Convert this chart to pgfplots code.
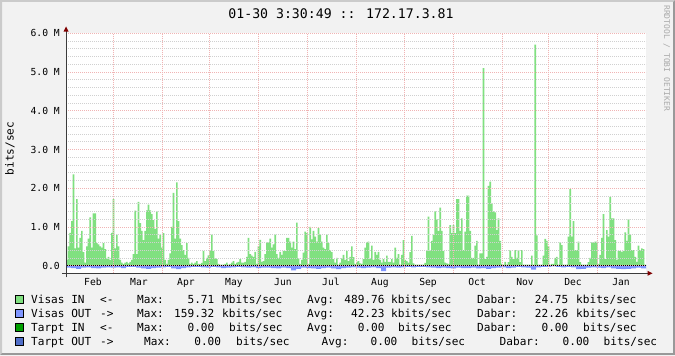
\documentclass[border=0pt]{standalone}
\usepackage{fontspec}
\usepackage{pgfplots}
\pgfplotsset{compat=1.18}
\usepackage{pgfplotstable}
\usetikzlibrary{arrows.meta}
\newfontfamily\rrdmono{DejaVu Sans Mono}
\newcommand\lgf{\rrdmono\fontsize{11.1bp}{13bp}\selectfont}
\newcommand\axf{\rrdmono\fontsize{9.7bp}{11bp}\selectfont}
\newcommand\ttf{\rrdmono\fontsize{13.2bp}{15bp}\selectfont}
\newcommand\wmf{\rrdmono\fontsize{8bp}{9bp}\selectfont}
\definecolor{bgc}{RGB}{242,242,242}
\definecolor{shadeA}{RGB}{203,203,203}
\definecolor{shadeB}{RGB}{153,153,153}
\definecolor{ingreen}{RGB}{128,224,128}
\definecolor{outblue}{RGB}{128,150,255}
\definecolor{tin}{RGB}{0,160,0}
\definecolor{tout}{RGB}{80,110,200}
\definecolor{mgrid}{RGB}{240,180,180}
\definecolor{mingrid}{RGB}{208,208,208}
\definecolor{axisc}{RGB}{60,60,60}
\definecolor{arrowc}{RGB}{127,0,0}
\definecolor{wmc}{RGB}{170,170,170}

% Visas IN, one value per step of 5/3 px (bits/sec in M)
\pgfplotstableread[row sep=\\, header=false]{
0.15\\0.5\\0.85\\1.15\\2.36\\0.45\\1.72\\0.47\\0.72\\0.9\\0.35\\0.08\\0.5\\0.7\\1.25\\0.47\\1.35\\1.35\\0.58\\0.55\\
0.5\\0.47\\0.58\\0.43\\0.17\\0.23\\0.15\\0.85\\1.72\\0.45\\0.8\\0.5\\0.15\\0.08\\0.05\\0.08\\0.1\\0.06\\0.1\\0.15\\
0.3\\1.42\\0.3\\1.65\\1.1\\0.9\\0.66\\0.9\\1.43\\1.58\\1.43\\1.33\\1.18\\0.95\\1.4\\0.7\\0.8\\0.47\\0.84\\
0.15\\0.05\\0.15\\0.32\\1.0\\1.88\\0.7\\2.15\\1.15\\0.7\\0.53\\0.4\\0.28\\0.58\\0.2\\0.05\\0.08\\0.05\\0.08\\0.12\\
0.05\\0.05\\0.07\\0.38\\0.12\\0.2\\0.27\\0.4\\0.8\\0.38\\0.19\\0.17\\0.05\\0.03\\0.03\\0.03\\0.05\\0.08\\0.03\\0.05\\
0.08\\0.12\\0.05\\0.08\\0.1\\0.17\\0.08\\0.08\\0.1\\0.23\\0.72\\0.3\\0.26\\0.23\\0.36\\0.05\\0.5\\0.67\\0.1\\
0.12\\0.3\\0.6\\0.6\\0.7\\0.47\\0.55\\0.8\\0.3\\0.2\\0.36\\0.28\\0.38\\0.38\\0.72\\0.72\\0.62\\0.47\\0.62\\0.43\\
1.11\\0.19\\0.05\\0.15\\0.34\\0.88\\0.84\\0.05\\1.0\\0.68\\0.9\\0.75\\0.62\\0.97\\0.8\\0.62\\0.47\\0.43\\0.8\\0.58\\
0.4\\0.35\\0.17\\0.08\\0.2\\0.03\\0.08\\0.19\\0.28\\0.15\\0.38\\0.12\\0.23\\0.5\\0.22\\0.05\\0.1\\0.12\\0.06\\
0.05\\0.17\\0.47\\0.6\\0.62\\0.17\\0.52\\0.15\\0.36\\0.28\\0.36\\0.15\\0.08\\0.17\\0.1\\0.26\\0.1\\0.1\\0.17\\0.08\\
0.47\\0.2\\0.3\\0.03\\0.28\\0.66\\0.15\\0.12\\0.08\\0.35\\0.77\\0.06\\0.03\\0.03\\0.03\\0.03\\0.03\\0.03\\0.07\\0.38\\
1.27\\0.38\\0.64\\0.8\\1.4\\1.2\\0.9\\1.5\\0.9\\0.38\\0.08\\0.06\\0.05\\1.05\\0.84\\1.05\\0.84\\1.72\\1.72\\
0.9\\1.22\\0.4\\0.88\\1.81\\1.81\\0.9\\0.2\\0.2\\0.52\\0.64\\0.03\\0.32\\0.32\\5.1\\0.17\\0.23\\2.06\\2.17\\1.6\\
1.4\\1.38\\0.92\\1.22\\0.64\\0.05\\0.03\\0.1\\0.03\\0.09\\0.4\\0.23\\0.17\\0.4\\0.2\\0.4\\0.09\\0.4\\0.03\\0.03\\
0.03\\0.03\\0.03\\0.26\\0.03\\5.71\\0.78\\0.03\\0.03\\0.03\\0.26\\0.69\\0.64\\0.5\\0.03\\0.05\\0.05\\0.2\\
0.23\\0.03\\0.6\\0.53\\0.03\\0.03\\0.03\\0.75\\1.98\\0.75\\1.15\\0.4\\0.4\\0.62\\0.09\\0.03\\0.03\\0.03\\0.03\\0.09\\
0.2\\0.6\\0.6\\0.62\\0.62\\0.05\\0.28\\0.72\\1.33\\0.17\\0.92\\0.75\\1.78\\1.22\\1.22\\0.66\\0.15\\0.38\\0.38\\0.36\\
0.38\\0.86\\0.64\\1.2\\0.8\\0.4\\0.4\\0.23\\0.1\\0.52\\0.4\\0.45\\0.43\\0.03\\0.03\\
}\inT

% Visas OUT, drawn below zero, one value per step of 5 px
\pgfplotstableread[row sep=\\, header=false]{
-0.05\\-0.06\\-0.08\\-0.05\\-0.04\\-0.06\\-0.07\\-0.05\\-0.04\\-0.05\\
-0.04\\-0.06\\-0.03\\-0.03\\-0.05\\-0.07\\-0.08\\-0.06\\-0.05\\-0.04\\
-0.03\\-0.07\\-0.09\\-0.06\\-0.04\\-0.03\\-0.03\\-0.04\\-0.05\\-0.03\\
-0.04\\-0.06\\-0.05\\-0.04\\-0.03\\-0.04\\-0.05\\-0.04\\-0.06\\-0.05\\
-0.05\\-0.06\\-0.07\\-0.05\\-0.06\\-0.12\\-0.08\\-0.05\\-0.06\\-0.07\\
-0.08\\-0.06\\-0.05\\-0.07\\-0.09\\-0.06\\-0.05\\-0.04\\-0.05\\-0.06\\
-0.05\\-0.04\\-0.06\\-0.14\\-0.05\\-0.04\\-0.05\\-0.04\\-0.03\\-0.04\\
-0.03\\-0.03\\-0.04\\-0.05\\-0.06\\-0.05\\-0.06\\-0.07\\-0.05\\-0.06\\
-0.06\\-0.05\\-0.07\\-0.06\\-0.08\\-0.06\\-0.05\\-0.04\\-0.06\\-0.05\\
-0.03\\-0.04\\-0.05\\-0.10\\-0.04\\-0.03\\-0.03\\-0.02\\-0.03\\-0.04\\
-0.03\\-0.04\\-0.09\\-0.08\\-0.05\\-0.04\\-0.05\\-0.06\\-0.04\\-0.07\\
-0.08\\-0.09\\-0.08\\-0.07\\-0.05\\-0.07\\-0.08\\-0.06\\-0.05\\-0.04\\
}\outT

\begin{document}
\begin{tikzpicture}[x=1bp,y=1bp]
\useasboundingbox (0,0) rectangle (675,355);
\fill[bgc] (0,0) rectangle (675,355);
\fill[shadeA] (0,0) -- (0,355) -- (675,355) -- (673,353) -- (2,353) -- (2,2) -- cycle;
\fill[shadeB] (0,0) -- (675,0) -- (675,355) -- (673,353) -- (673,2) -- (2,2) -- cycle;

\begin{axis}[
  at={(66bp,81.7bp)}, anchor=south west,
  scale only axis, width=580bp, height=240bp,
  xmin=0, xmax=348, ymin=-0.196, ymax=6,
  axis background/.style={fill=white},
  axis line style={draw=none},
  axis on top,
  tick style={draw=none},
  xtick={16.2,43.8,72,100.8,130.2,159,188.4,217.2,246.6,275.4,304.2,333},
  xticklabels={Feb,Mar,Apr,May,Jun,Jul,Aug,Sep,Oct,Nov,Dec,Jan},
  xticklabel style={font=\axf, anchor=north, inner sep=0pt, yshift=-5bp},
  extra x ticks={28.2,57.6,85.8,115.2,144.6,174,202.8,232.2,261.6,289.2,318.6},
  extra x tick labels={},
  extra x tick style={grid=major},
  ytick={0,1,2,3,4,5,6},
  yticklabels={0.0,1.0 M,2.0 M,3.0 M,4.0 M,5.0 M,6.0 M},
  yticklabel style={font=\axf, anchor=east, inner sep=0pt, xshift=-6bp},
  minor y tick num=4,
  ymajorgrids, yminorgrids,
  major grid style={draw=mgrid, dash pattern=on 1bp off 1bp, line width=0.7bp},
  minor grid style={draw=mingrid, dash pattern=on 1bp off 1bp, line width=0.7bp},
  /pgf/number format/assume math mode=true,
]
\addplot[const plot, fill=ingreen, draw=none] table[x expr=\coordindex, y index=0]{\inT} \closedcycle;
\addplot[const plot, fill=outblue, draw=none] table[x expr=3*\coordindex, y index=0]{\outT} \closedcycle;
\addplot[black, line width=1.5bp] coordinates {(0,0) (348,0)};
\end{axis}

% axes with arrows
\draw[axisc, line width=0.8bp] (62,81.7) -- (648,81.7);
\fill[arrowc] (652.5,81.7) -- (647.5,84.2) -- (647.5,79.2) -- cycle;
\draw[axisc, line width=0.8bp] (66,77.7) -- (66,324);
\fill[arrowc] (66,328.5) -- (63.5,323.5) -- (68.5,323.5) -- cycle;

% title, unit, watermark
\node[font=\ttf, anchor=base, inner sep=0pt] at (341,336.7) {01-30 3:30:49 :: 172.17.3.81};
\node[font=\lgf, rotate=90, inner sep=0pt] at (10,206.5) {bits/sec};
\node[font=\wmf, text=wmc, rotate=-90, anchor=base west, inner sep=0pt] at (664,350) {RRDTOOL / TOBI OETIKER};

% legend
\begin{scope}[every node/.style={font=\lgf, inner sep=0pt}]
\filldraw[fill=ingreen, draw=black, line width=0.8bp] (15.5,52) rectangle (23.5,60);
\filldraw[fill=outblue, draw=black, line width=0.8bp] (15.5,38) rectangle (23.5,46);
\filldraw[fill=tin, draw=black, line width=0.8bp] (15.5,24) rectangle (23.5,32);
\filldraw[fill=tout, draw=black, line width=0.8bp] (15.5,10) rectangle (23.5,18);
% line 1
\node[anchor=base west] at (31,51.5) {Visas IN};
\node[anchor=base west] at (100,51.5) {<-};
\node[anchor=base west] at (137,51.5) {Max:};
\node[anchor=base east] at (214.5,51.5) {5.71};
\node[anchor=base west] at (222,51.5) {Mbits/sec};
\node[anchor=base west] at (307,51.5) {Avg:};
\node[anchor=base east] at (384.7,51.5) {489.76};
\node[anchor=base west] at (391,51.5) {kbits/sec};
\node[anchor=base west] at (477,51.5) {Dabar:};
\node[anchor=base east] at (568.5,51.5) {24.75};
\node[anchor=base west] at (576,51.5) {kbits/sec};
% line 2
\node[anchor=base west] at (31,37.5) {Visas OUT};
\node[anchor=base west] at (100,37.5) {->};
\node[anchor=base west] at (137,37.5) {Max:};
\node[anchor=base east] at (214.5,37.5) {159.32};
\node[anchor=base west] at (222,37.5) {kbits/sec};
\node[anchor=base west] at (307,37.5) {Avg:};
\node[anchor=base east] at (384.7,37.5) {42.23};
\node[anchor=base west] at (391,37.5) {kbits/sec};
\node[anchor=base west] at (477,37.5) {Dabar:};
\node[anchor=base east] at (568.5,37.5) {22.26};
\node[anchor=base west] at (576,37.5) {kbits/sec};
% line 3
\node[anchor=base west] at (31,23.5) {Tarpt IN};
\node[anchor=base west] at (100,23.5) {<-};
\node[anchor=base west] at (137,23.5) {Max:};
\node[anchor=base east] at (214.5,23.5) {0.00};
\node[anchor=base west] at (229,23.5) {bits/sec};
\node[anchor=base west] at (307,23.5) {Avg:};
\node[anchor=base east] at (384.7,23.5) {0.00};
\node[anchor=base west] at (398,23.5) {bits/sec};
\node[anchor=base west] at (477,23.5) {Dabar:};
\node[anchor=base east] at (568.5,23.5) {0.00};
\node[anchor=base west] at (583,23.5) {bits/sec};
% line 4
\node[anchor=base west] at (31,9.5) {Tarpt OUT};
\node[anchor=base west] at (100,9.5) {->};
\node[anchor=base west] at (144,9.5) {Max:};
\node[anchor=base east] at (221.3,9.5) {0.00};
\node[anchor=base west] at (236,9.5) {bits/sec};
\node[anchor=base west] at (321.5,9.5) {Avg:};
\node[anchor=base east] at (397.6,9.5) {0.00};
\node[anchor=base west] at (411.5,9.5) {bits/sec};
\node[anchor=base west] at (499.5,9.5) {Dabar:};
\node[anchor=base east] at (589.6,9.5) {0.00};
\node[anchor=base west] at (603.5,9.5) {bits/sec};
\end{scope}
\end{tikzpicture}
\end{document}
